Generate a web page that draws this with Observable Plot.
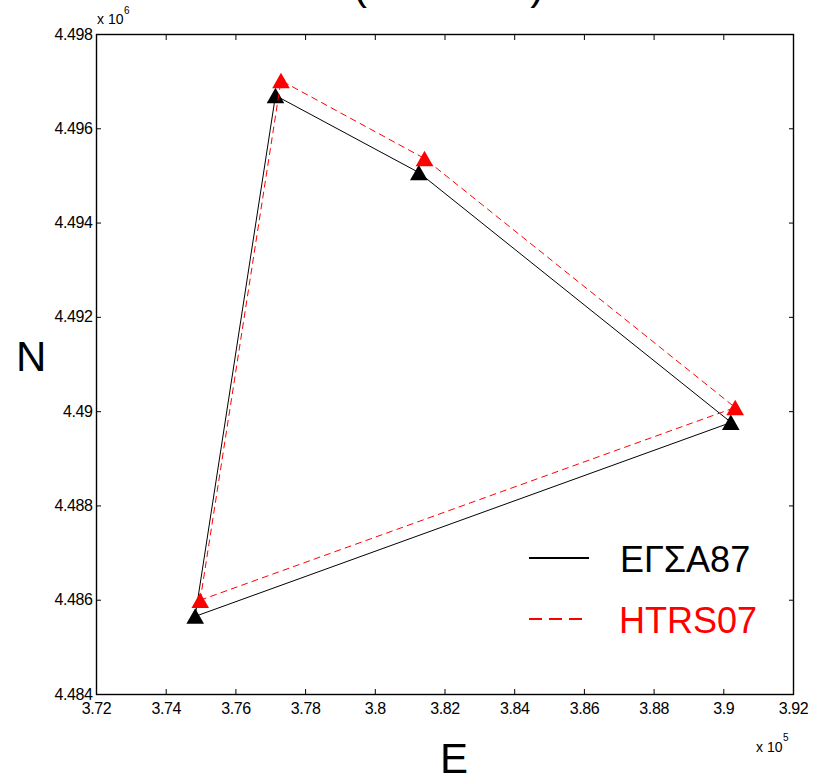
<!DOCTYPE html>
<html>
<head>
<meta charset="utf-8">
<script src="https://cdn.jsdelivr.net/npm/d3@7"></script>
<script src="https://cdn.jsdelivr.net/npm/@observablehq/plot@0.6"></script>
<style>
  html, body { margin: 0; padding: 0; background: #fff; }
  #wrap { position: relative; width: 818px; height: 775px; overflow: hidden; }
  #wrap svg.overlay { position: absolute; left: 0; top: 0; pointer-events: none; }
  #wrap svg g[aria-label$="tick label"] text { font-size: 16px; letter-spacing: -0.4px; }
</style>
</head>
<body>
<div id="wrap"></div>
<script>
// ---- data ----
const seriesNames = ["ΕΓΣΑ87", "HTRS07"];
const seriesColors = ["black", "red"];
const E_EGSA87 = [374832, 377136, 381248, 390201];
const N_EGSA87 = [4485665, 4496706, 4495073, 4489776];
const E_HTRS07 = [374976, 377294, 381412, 390327];
const N_HTRS07 = [4486000, 4497024, 4495370, 4490088];

const xTicks = [372000, 374000, 376000, 378000, 380000, 382000, 384000, 386000, 388000, 390000, 392000];
const xTickLabels = ["3.72", "3.74", "3.76", "3.78", "3.8", "3.82", "3.84", "3.86", "3.88", "3.9", "3.92"];
const yTicks = [4484000, 4486000, 4488000, 4490000, 4492000, 4494000, 4496000, 4498000];
const yTickLabels = ["4.484", "4.486", "4.488", "4.49", "4.492", "4.494", "4.496", "4.498"];
const xLabel = "E";
const yLabel = "N";
const xExponent = "5";
const yExponent = "6";

// ---- build tables ----
const egsa = E_EGSA87.map((e, i) => ({E: e, N: N_EGSA87[i]}));
const htrs = E_HTRS07.map((e, i) => ({E: e, N: N_HTRS07[i]}));

const FONT = "'Liberation Sans', Arial, Helvetica, sans-serif";

// MATLAB-like triangle marker centred on its bounding box
const triangle = {
  draw(context, size) {
    const r = Math.sqrt(size / Math.PI);
    const hw = r * 1.06, hh = r * 0.94;
    context.moveTo(0, -hh);
    context.lineTo(hw, hh);
    context.lineTo(-hw, hh);
    context.closePath();
  }
};

const fx = d => xTickLabels[xTicks.indexOf(d)] ?? "";
const fy = d => yTickLabels[yTicks.indexOf(d)] ?? "";

const chart = Plot.plot({
  width: 818,
  height: 775,
  marginLeft: 96,
  marginRight: 25,
  marginTop: 34,
  marginBottom: 81,
  style: {fontFamily: FONT, fontSize: "16px", color: "black", background: "white", overflow: "visible"},
  x: {domain: [372000, 392000], label: null},
  y: {domain: [4484000, 4498000], label: null},
  marks: [
    Plot.axisX({anchor: "bottom", ticks: xTicks, tickSize: -5, tickPadding: 13, tickFormat: fx, label: null, strokeWidth: 1, fontSize: 16}),
    Plot.axisX({anchor: "top", ticks: xTicks, tickSize: -5, tickFormat: () => "", label: null, strokeWidth: 1}),
    Plot.axisY({anchor: "left", ticks: yTicks, tickSize: -5, tickPadding: 9, tickFormat: fy, label: null, strokeWidth: 1, fontSize: 16}),
    Plot.axisY({anchor: "right", ticks: yTicks, tickSize: -5, tickFormat: () => "", label: null, strokeWidth: 1}),
    Plot.frame({stroke: "black", strokeWidth: 1.4}),
    Plot.line(egsa, {x: "E", y: "N", stroke: seriesColors[0], strokeWidth: 1, curve: "linear-closed"}),
    Plot.dot(egsa, {x: "E", y: "N", symbol: triangle, r: 8.3, fill: seriesColors[0], stroke: "none"}),
    Plot.line(htrs, {x: "E", y: "N", stroke: seriesColors[1], strokeWidth: 1, strokeDasharray: "6,5", curve: "linear-closed"}),
    Plot.dot(htrs, {x: "E", y: "N", symbol: triangle, r: 8.3, fill: seriesColors[1], stroke: "none"})
  ]
});

const wrap = document.getElementById("wrap");
wrap.appendChild(chart);

// ---- overlay: title remnant, exponents, axis labels, legend ----
const ns = "http://www.w3.org/2000/svg";
const ov = document.createElementNS(ns, "svg");
ov.setAttribute("class", "overlay");
ov.setAttribute("width", 818);
ov.setAttribute("height", 775);
ov.setAttribute("font-family", FONT);
wrap.appendChild(ov);

function txt(x, y, s, size, fill = "black", anchor = "start") {
  const t = document.createElementNS(ns, "text");
  t.setAttribute("x", x);
  t.setAttribute("y", y);
  t.setAttribute("font-size", size);
  t.setAttribute("fill", fill);
  t.setAttribute("text-anchor", anchor);
  t.setAttribute("style", "white-space: pre");
  t.textContent = s;
  ov.appendChild(t);
  return t;
}
function line(x1, y1, x2, y2, stroke, dash) {
  const l = document.createElementNS(ns, "line");
  l.setAttribute("x1", x1); l.setAttribute("y1", y1);
  l.setAttribute("x2", x2); l.setAttribute("y2", y2);
  l.setAttribute("stroke", stroke);
  l.setAttribute("stroke-width", 2);
  if (dash) l.setAttribute("stroke-dasharray", dash);
  ov.appendChild(l);
}

// title (only the bottom of the parentheses lies inside the picture)
txt(353, -1, "(\u00a0\u00a0\u00a0\u00a0\u00a0\u00a0\u00a0\u00a0\u00a0\u00a0\u00a0\u00a0\u00a0\u00a0)", 42);

// exponent markers
txt(97, 24, "x 10", 14);
txt(124, 14, yExponent, 10);
txt(756, 752, "x 10", 14);
txt(783, 741, xExponent, 10);

// axis labels
txt(16, 371, yLabel, 42);
txt(440, 773, xLabel, 42);

// legend
line(529, 558, 589, 558, seriesColors[0]);
txt(620, 572, seriesNames[0], 36, seriesColors[0]);
line(529, 619, 589, 619, seriesColors[1], "13,7");
txt(619, 633, seriesNames[1], 36, seriesColors[1]);
</script>
</body>
</html>
